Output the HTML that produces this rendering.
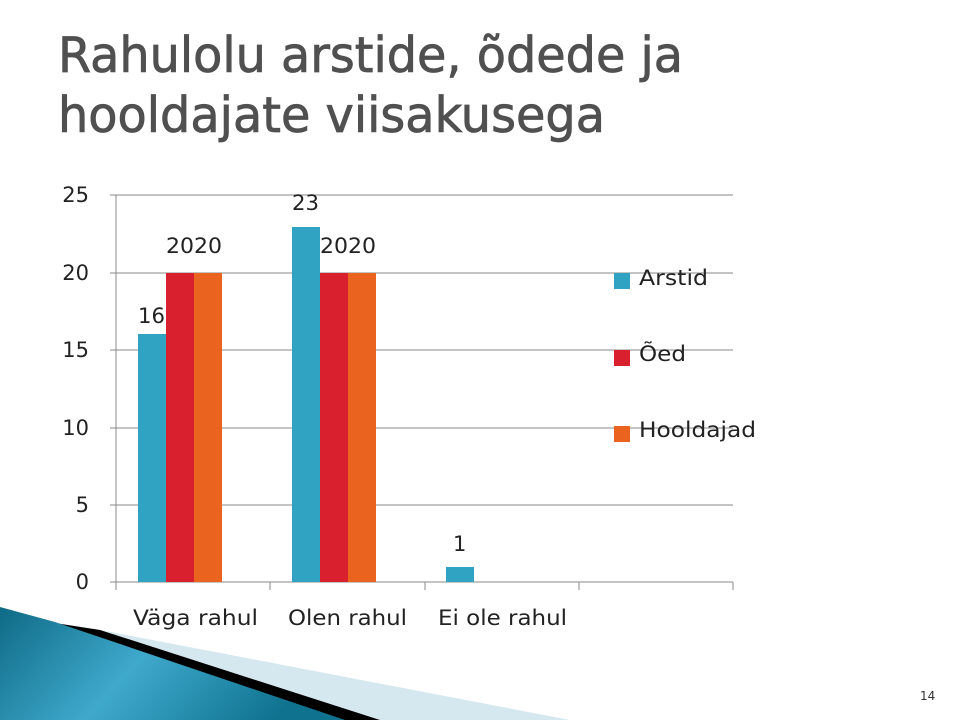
<!DOCTYPE html>
<html><head><meta charset="utf-8"><style>
body{margin:0;width:960px;height:720px;background:#fff;overflow:hidden;font-family:"DejaVu Sans","Liberation Sans",sans-serif}
</style></head><body>
<svg width="960" height="720" xmlns="http://www.w3.org/2000/svg" style="position:absolute;left:0;top:0">
<defs><linearGradient id="g" x1="0" y1="0" x2="1" y2="0.3"><stop offset="0" stop-color="#0e6a85"/><stop offset="0.5" stop-color="#3fa9cc"/><stop offset="1" stop-color="#0f7390"/></linearGradient></defs>
<g font-size="49" fill="#505050" stroke="#505050" stroke-width="0.8">
<text x="58" y="72" textLength="625" lengthAdjust="spacingAndGlyphs">Rahulolu arstide, õdede ja</text>
<text x="58" y="132" textLength="547" lengthAdjust="spacingAndGlyphs">hooldajate viisakusega</text>
</g>
<g stroke="#888" stroke-width="1">
<line x1="116" y1="195" x2="733" y2="195"/><line x1="116" y1="273" x2="733" y2="273"/>
<line x1="116" y1="350" x2="733" y2="350"/><line x1="116" y1="428" x2="733" y2="428"/>
<line x1="116" y1="505" x2="733" y2="505"/><line x1="116" y1="582" x2="733" y2="582"/>
<line x1="116" y1="195" x2="116" y2="590"/>
<line x1="270" y1="582" x2="270" y2="590"/><line x1="425" y1="582" x2="425" y2="590"/>
<line x1="579" y1="582" x2="579" y2="590"/><line x1="733" y1="582" x2="733" y2="590"/>
<line x1="110" y1="195" x2="116" y2="195"/><line x1="110" y1="273" x2="116" y2="273"/><line x1="110" y1="350" x2="116" y2="350"/><line x1="110" y1="428" x2="116" y2="428"/><line x1="110" y1="505" x2="116" y2="505"/><line x1="110" y1="582" x2="116" y2="582"/>
</g>
<g font-size="21" fill="#222" text-anchor="end">
<text x="89" y="202">25</text><text x="89" y="280">20</text><text x="89" y="357">15</text><text x="89" y="435">10</text><text x="89" y="512">5</text><text x="89" y="589">0</text>
</g>
<rect x="138" y="334" width="28" height="248" fill="#2fa3c1"/>
<rect x="166" y="273" width="28" height="309" fill="#d9202f"/>
<rect x="194" y="273" width="28" height="309" fill="#ea6420"/>
<rect x="292" y="227" width="28" height="355" fill="#2fa3c1"/>
<rect x="320" y="273" width="28" height="309" fill="#d9202f"/>
<rect x="348" y="273" width="28" height="309" fill="#ea6420"/>
<rect x="446" y="567" width="28" height="15" fill="#2fa3c1"/>
<g font-size="21" fill="#222">
<text x="138" y="323" textLength="27" lengthAdjust="spacingAndGlyphs">16</text>
<text x="166" y="253" textLength="56" lengthAdjust="spacingAndGlyphs">2020</text>
<text x="292" y="210" textLength="27" lengthAdjust="spacingAndGlyphs">23</text>
<text x="320" y="253" textLength="56" lengthAdjust="spacingAndGlyphs">2020</text>
<text x="453" y="551">1</text>
<text x="133" y="625" textLength="125" lengthAdjust="spacingAndGlyphs">Väga rahul</text>
<text x="288" y="625" textLength="119" lengthAdjust="spacingAndGlyphs">Olen rahul</text>
<text x="438" y="625" textLength="129" lengthAdjust="spacingAndGlyphs">Ei ole rahul</text>
</g>
<rect x="614" y="273" width="16" height="16" fill="#2fa3c1"/>
<rect x="614" y="350" width="16" height="16" fill="#d9202f"/>
<rect x="614" y="426" width="16" height="16" fill="#ea6420"/>
<g font-size="21" fill="#222">
<text x="639" y="285" textLength="69" lengthAdjust="spacingAndGlyphs">Arstid</text>
<text x="639" y="361" textLength="47" lengthAdjust="spacingAndGlyphs">Õed</text>
<text x="639" y="437" textLength="117" lengthAdjust="spacingAndGlyphs">Hooldajad</text></g>
<polygon points="90,628 570,720 380,720" fill="#d6e8ef"/>
<polygon points="55,623 100,630 380,720 340,720" fill="#000"/>
<polygon points="0,607 55,622 345,720 0,720" fill="url(#g)"/>
<text x="920" y="700" font-size="12" fill="#333">14</text>
</svg>
</body></html>
